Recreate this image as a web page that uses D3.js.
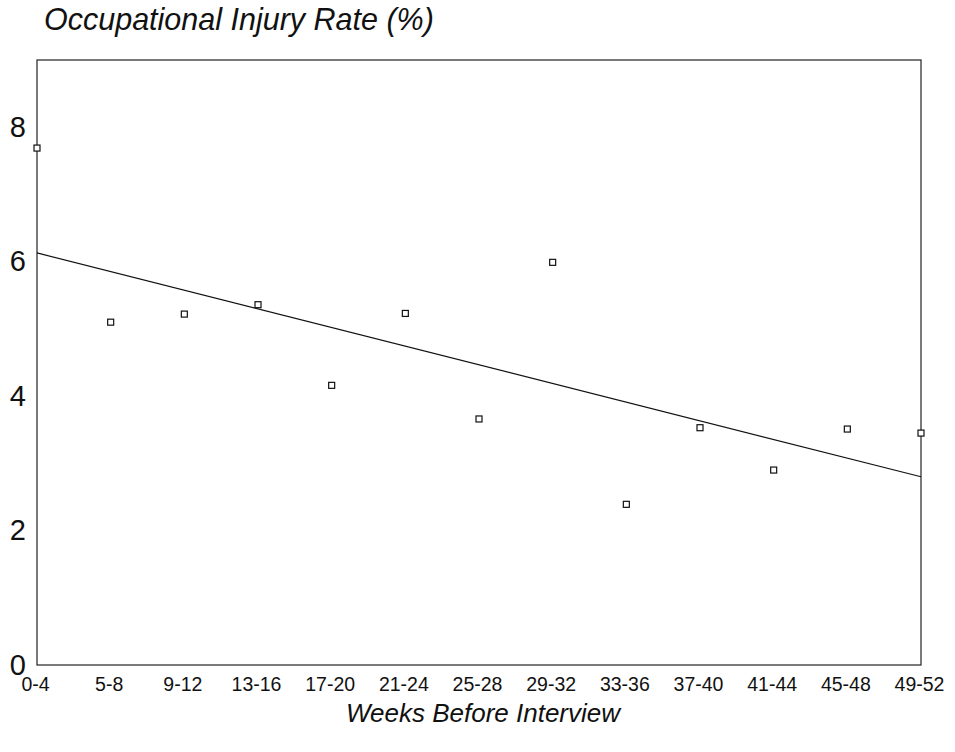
<!DOCTYPE html>
<html>
<head>
<meta charset="utf-8">
<script src="https://cdn.jsdelivr.net/npm/d3@7"></script>
<style>
  body { margin: 0; background: #fff; }
  text { font-family: "Liberation Sans", Arial, sans-serif; fill: #111; }
</style>
</head>
<body>
<div id="chart"></div>
<script>
var svgWidth = 955;
var svgHeight = 752;

var margin = { top: 60, right: 34, bottom: 87, left: 37 };

var width = svgWidth - margin.left - margin.right;
var height = svgHeight - margin.top - margin.bottom;

// data
var weeks = ["0-4", "5-8", "9-12", "13-16", "17-20", "21-24", "25-28",
             "29-32", "33-36", "37-40", "41-44", "45-48", "49-52"];
var injuryRate = [7.69, 5.10, 5.22, 5.36, 4.16, 5.23, 3.66,
                  5.99, 2.39, 3.53, 2.90, 3.51, 3.45];
// fitted line, value at first and last week group
var trendEnds = [6.13, 2.80];
var yTicks = [0, 2, 4, 6, 8];

var svg = d3.select("#chart")
  .append("svg")
  .attr("width", svgWidth)
  .attr("height", svgHeight);

var chartGroup = svg.append("g")
  .attr("transform", `translate(${margin.left}, ${margin.top})`);

var xScale = d3.scalePoint()
  .domain(weeks)
  .range([0, width]);

var yScale = d3.scaleLinear()
  .domain([0, 9])
  .range([height, 0]);

// frame
chartGroup.append("rect")
  .attr("width", width)
  .attr("height", height)
  .attr("fill", "none")
  .attr("stroke", "#222")
  .attr("stroke-width", 1.2);

// axes, labels only
var bottomAxis = d3.axisBottom(xScale).tickSize(0).tickPadding(12);
var leftAxis = d3.axisLeft(yScale).tickValues(yTicks).tickSize(0).tickPadding(11);

var xAxisG = chartGroup.append("g")
  .attr("transform", `translate(0, ${height})`)
  .call(bottomAxis);
xAxisG.select(".domain").remove();
xAxisG.selectAll("text")
  .attr("font-size", "19.5px")
  .attr("dx", "-2px")
  .style("font-family", "'Liberation Sans', Arial, sans-serif")
  .attr("fill", "#111");

var yAxisG = chartGroup.append("g").call(leftAxis);
yAxisG.select(".domain").remove();
yAxisG.selectAll("text")
  .attr("font-size", "29px")
  .style("font-family", "'Liberation Sans', Arial, sans-serif")
  .attr("fill", "#111");

// trend line
var trendLine = d3.line()
  .x(d => xScale(d.week))
  .y(d => yScale(d.value));

chartGroup.append("path")
  .datum([{ week: weeks[0], value: trendEnds[0] },
          { week: weeks[weeks.length - 1], value: trendEnds[1] }])
  .attr("d", trendLine)
  .attr("fill", "none")
  .attr("stroke", "#111")
  .attr("stroke-width", 1.2);

// open square markers
var s = 6;
chartGroup.selectAll(".pt")
  .data(injuryRate)
  .enter()
  .append("rect")
  .attr("class", "pt")
  .attr("x", (d, i) => xScale(weeks[i]) - s / 2)
  .attr("y", d => yScale(d) - s / 2)
  .attr("width", s)
  .attr("height", s)
  .attr("fill", "#fff")
  .attr("stroke", "#111")
  .attr("stroke-width", 1.2);

// titles
svg.append("text")
  .attr("x", 44)
  .attr("y", 30)
  .attr("font-size", "30.5px")
  .style("font-style", "italic")
  .text("Occupational Injury Rate (%)");

svg.append("text")
  .attr("x", margin.left + width / 2 + 4)
  .attr("y", 722)
  .attr("text-anchor", "middle")
  .attr("font-size", "26px")
  .style("font-style", "italic")
  .text("Weeks Before Interview");
</script>
</body>
</html>
